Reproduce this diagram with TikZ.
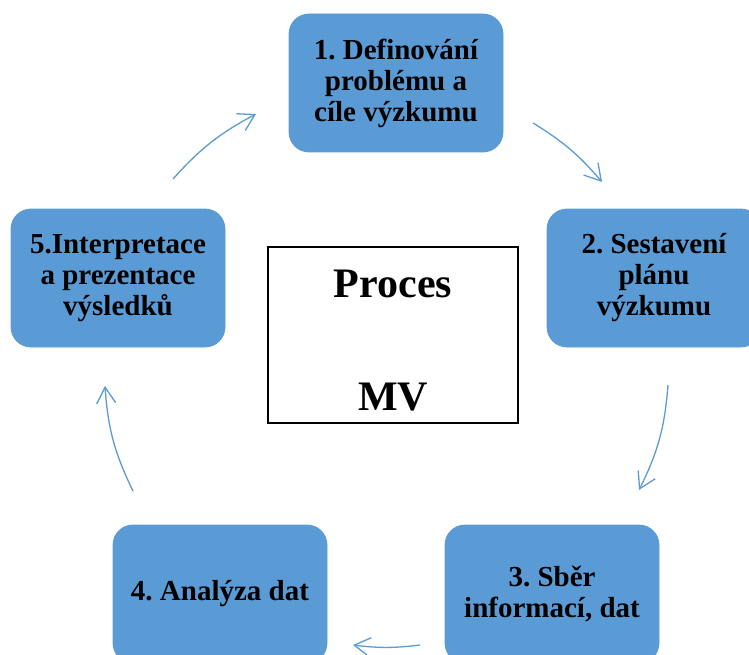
\documentclass[tikz,border=0pt]{standalone}
\usepackage{fontspec}
\setmainfont{Liberation Serif}
\usetikzlibrary{arrows.meta}
\definecolor{boxblue}{HTML}{5B9BD5}
\frenchspacing
\tikzset{
  stepbox/.style={rounded corners=20pt, fill=boxblue, draw=boxblue, line width=0.8pt,
    minimum width=214pt, minimum height=138pt, align=center, inner sep=0pt,
    font=\bfseries\fontsize{29}{31}\selectfont},
  centerbox/.style={draw=black, line width=1.2pt, fill=white, minimum width=250pt,
    minimum height=176pt, align=center, inner sep=0pt, text height=151pt, text depth=0pt,
    font=\bfseries\fontsize{42}{113}\selectfont},
  arr/.style={draw=boxblue, line width=1.3pt,
    -{Straight Barb[length=16pt,width=19pt,line width=1.3pt]}}
}
\begin{document}
\begin{tikzpicture}[x=1pt,y=-1pt]
\useasboundingbox (0,0) rectangle (749,655);
\begin{scope}
\clip (0,0) rectangle (749,655);
\node[stepbox] (b1) at (396,83) {1. Definování\\problému a\\cíle výzkumu};
\node[stepbox] (b2) at (654,278) {2. Sestavení\\plánu\\výzkumu};
\node[stepbox] (b3) at (552,594) {3. Sběr\\informací, dat};
\node[stepbox] (b4) at (220,594) {4. Analýza dat};
\node[stepbox] (b5) at (118,278) {5.Interpretace\\a prezentace\\výsledků};
\node[centerbox] (c) at (393,335) {Proces\\MV};
\end{scope}
\coordinate (a1s) at (533,123); \coordinate (a1e) at (602,182);
\coordinate (a2s) at (668,385); \coordinate (a2e) at (639,490);
\coordinate (a3s) at (420,645); \coordinate (a3e) at (353,645);
\coordinate (a4s) at (133,491); \coordinate (a4e) at (105,386);
\coordinate (a5s) at (173,179); \coordinate (a5e) at (256,114);
\draw[arr] (a1s) to[bend left=9] (a1e);
\draw[arr] (a2s) to[bend left=11] (a2e);
\draw[arr] (a3s) to[bend left=7] (a3e);
\draw[arr] (a4s) to[bend left=11] (a4e);
\draw[arr] (a5s) to[bend left=10] (a5e);
\end{tikzpicture}
\end{document}
